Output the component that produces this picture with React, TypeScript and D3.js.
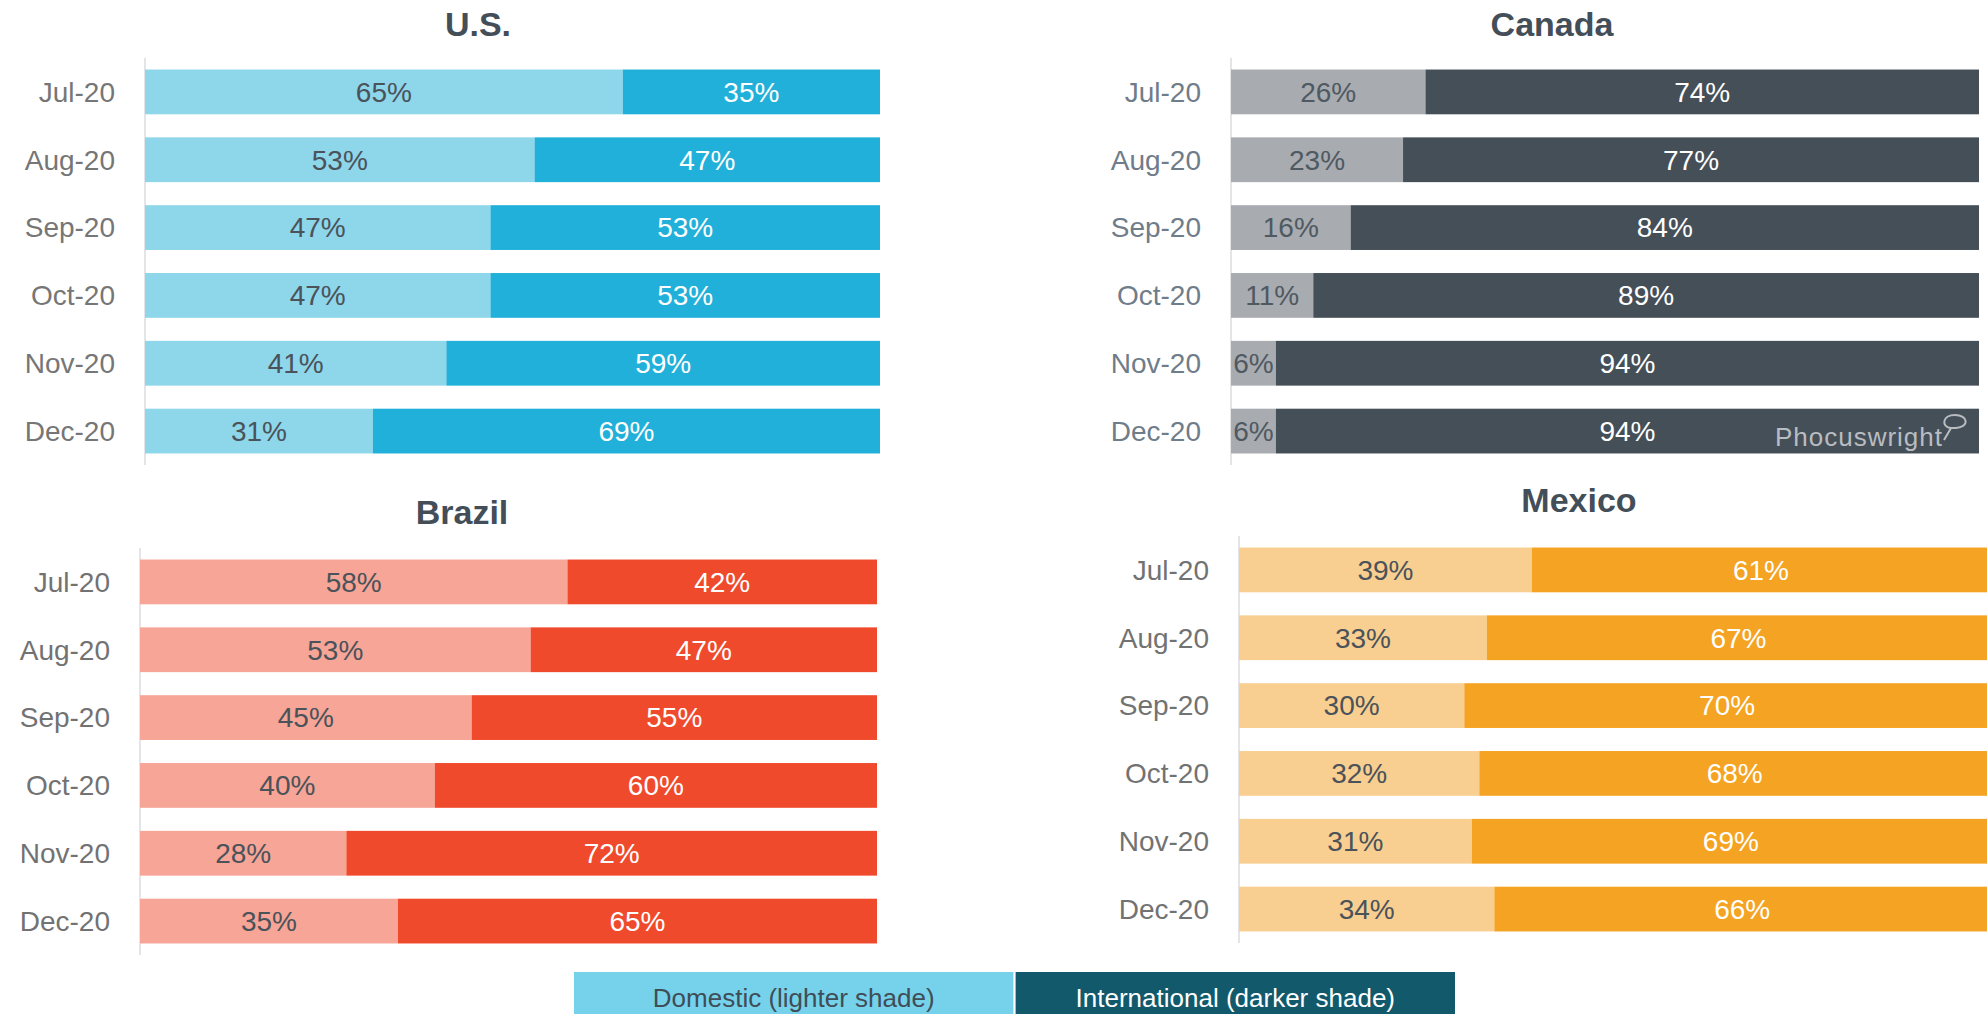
import React from "react";
import * as d3 from "d3";

const months = ["Jul-20", "Aug-20", "Sep-20", "Oct-20", "Nov-20", "Dec-20"];

const usDomestic = [65, 53, 47, 47, 41, 31];
const usInternational = [35, 47, 53, 53, 59, 69];
const canadaDomestic = [26, 23, 16, 11, 6, 6];
const canadaInternational = [74, 77, 84, 89, 94, 94];
const brazilDomestic = [58, 53, 45, 40, 28, 35];
const brazilInternational = [42, 47, 55, 60, 72, 65];
const mexicoDomestic = [39, 33, 30, 32, 31, 34];
const mexicoInternational = [61, 67, 70, 68, 69, 66];

const legendLabels = ["Domestic (lighter shade)", "International (darker shade)"];

const FONT = "'Liberation Sans', Arial, sans-serif";

type PanelProps = {
  title: string;
  domestic: number[];
  international: number[];
  x0: number;
  x1: number;
  y0: number;
  y1: number;
  titleX: number;
  titleY: number;
  light: string;
  dark: string;
  lightText: string;
  tickColor: string;
};

const Panel = (p: PanelProps) => {
  const y = d3
    .scaleBand<string>()
    .domain(months)
    .range([p.y0, p.y1])
    .paddingInner(0.34)
    .paddingOuter(0.17);
  const x = d3.scaleLinear().domain([0, 100]).range([p.x0, p.x1]);
  const bw = y.bandwidth();

  return (
    <g>
      <text
        x={p.titleX}
        y={p.titleY}
        textAnchor="middle"
        fontSize={34}
        fontWeight="bold"
        fill="#434e58"
      >
        {p.title}
      </text>
      <line x1={p.x0} x2={p.x0} y1={p.y0} y2={p.y1} stroke="#e3e5e8" strokeWidth={2} />
      {months.map((m, i) => {
        const d = p.domestic[i];
        const n = p.international[i];
        const top = y(m)!;
        const cy = top + bw / 2;
        return (
          <g key={m}>
            <text
              x={p.x0 - 30}
              y={cy}
              dy="0.35em"
              textAnchor="end"
              fontSize={28}
              fill={p.tickColor}
            >
              {m}
            </text>
            <rect x={x(0)} y={top} width={x(d) - x(0)} height={bw} fill={p.light} />
            <rect x={x(d)} y={top} width={x(d + n) - x(d)} height={bw} fill={p.dark} />
            <text
              x={(x(0) + x(d)) / 2}
              y={cy}
              dy="0.35em"
              textAnchor="middle"
              fontSize={28}
              fill={p.lightText}
            >
              {d}%
            </text>
            <text
              x={(x(d) + x(d + n)) / 2}
              y={cy}
              dy="0.35em"
              textAnchor="middle"
              fontSize={28}
              fill="#ffffff"
            >
              {n}%
            </text>
          </g>
        );
      })}
    </g>
  );
};

export default function App() {
  const legendX = d3.scaleBand<string>().domain(legendLabels).range([574, 1455]).paddingInner(0.005);
  const legendColors = ["#75d2ea", "#12596b"];
  const legendText = ["#3f4d57", "#ffffff"];

  return (
    <svg
      width={1987}
      height={1014}
      style={{ position: "absolute", left: 0, top: 0, fontFamily: FONT, background: "#fff" }}
    >
      <Panel
        title="U.S."
        domestic={usDomestic}
        international={usInternational}
        x0={145}
        x1={880}
        y0={58}
        y1={465}
        titleX={478}
        titleY={36}
        light="#8ed6ea"
        dark="#21b0d9"
        lightText="#4a525a"
        tickColor="#767676"
      />
      <Panel
        title="Canada"
        domestic={canadaDomestic}
        international={canadaInternational}
        x0={1231}
        x1={1979}
        y0={58}
        y1={465}
        titleX={1552}
        titleY={36}
        light="#a8abaf"
        dark="#454f58"
        lightText="#4f5962"
        tickColor="#6f7c8a"
      />
      <Panel
        title="Brazil"
        domestic={brazilDomestic}
        international={brazilInternational}
        x0={140}
        x1={877}
        y0={548}
        y1={955}
        titleX={462}
        titleY={524}
        light="#f6a596"
        dark="#f04a2d"
        lightText="#4a525a"
        tickColor="#727272"
      />
      <Panel
        title="Mexico"
        domestic={mexicoDomestic}
        international={mexicoInternational}
        x0={1239}
        x1={1990}
        y0={536}
        y1={943}
        titleX={1579}
        titleY={512}
        light="#f8cf90"
        dark="#f5a322"
        lightText="#4a525a"
        tickColor="#727272"
      />
      {/* watermark */}
      <text x={1775} y={446} fontSize={26} fill="#b9bdc1" textLength={167}>
        Phocuswright
      </text>
      <path
        d="M1944,440 L1951,428 C1941,427 1942,415 1955,415 C1968,415 1970,427 1956,428 L1951,428"
        fill="none"
        stroke="#b9bdc1"
        strokeWidth={2}
      />
      {legendLabels.map((l, i) => (
        <g key={l}>
          <rect x={legendX(l)} y={972} width={legendX.bandwidth()} height={50} fill={legendColors[i]} />
          <text
            x={legendX(l)! + legendX.bandwidth() / 2}
            y={1007}
            textAnchor="middle"
            fontSize={26}
            fill={legendText[i]}
          >
            {l}
          </text>
        </g>
      ))}
    </svg>
  );
}
